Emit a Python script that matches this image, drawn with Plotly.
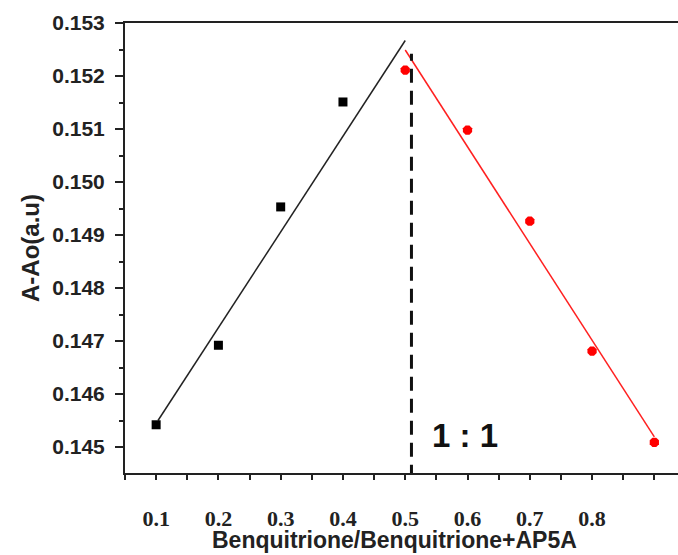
import plotly.graph_objects as go

# Data
black_x = [0.1, 0.2, 0.3, 0.4]
black_y = [0.14542, 0.14692, 0.14953, 0.15151]
red_x = [0.5, 0.6, 0.7, 0.8, 0.9]
red_y = [0.15211, 0.15098, 0.14926, 0.14681, 0.14509]

# Fitted lines (endpoints)
black_fit_x = [0.103, 0.5]
black_fit_y = [0.14550, 0.15267]
red_fit_x = [0.5, 0.9]
red_fit_y = [0.15249, 0.14519]

# Stoichiometry marker
ratio_x = 0.51
ratio_top = 0.15242
ratio_label = "1 : 1"
ratio_label_x = 0.596
ratio_label_y = 0.14522

x_title = "Benquitrione/Benquitrione+AP5A"
y_title = "A-Ao(a.u)"

x_ticks = [0.05, 0.1, 0.15, 0.2, 0.25, 0.3, 0.35, 0.4, 0.45, 0.5, 0.55, 0.6, 0.65, 0.7, 0.75, 0.8, 0.85, 0.9]
x_ticktext = ["", "0.1", "", "0.2", "", "0.3", "", "0.4", "", "0.5", "", "0.6", "", "0.7", "", "0.8", "", ""]
y_ticks = [0.145, 0.146, 0.147, 0.148, 0.149, 0.150, 0.151, 0.152, 0.153]

fig = go.Figure()
fig.add_trace(go.Scatter(x=black_fit_x, y=black_fit_y, mode="lines",
                         line=dict(color="#222222", width=1.5), showlegend=False))
fig.add_trace(go.Scatter(x=red_fit_x, y=red_fit_y, mode="lines",
                         line=dict(color="#ff2020", width=1.5), showlegend=False))
fig.add_trace(go.Scatter(x=black_x, y=black_y, mode="markers",
                         marker=dict(symbol="square", size=9, color="#000000"), showlegend=False))
fig.add_trace(go.Scatter(x=red_x, y=red_y, mode="markers",
                         marker=dict(symbol="octagon", size=10, color="#ff0000"), showlegend=False))

fig.add_shape(type="line", xref="x", yref="y", x0=ratio_x, x1=ratio_x, y0=0.14440, y1=ratio_top,
              line=dict(color="#111111", width=3, dash="14px,8px"))
fig.add_annotation(x=ratio_label_x, y=ratio_label_y, xref="x", yref="y", text="<b>" + ratio_label + "</b>",
                   showarrow=False, font=dict(family="Liberation Sans, Arial", size=33, color="#111111"),
                   xanchor="center", yanchor="middle")
fig.add_annotation(x=0.488, y=0, xref="paper", yref="paper", text="<b>" + x_title + "</b>",
                   showarrow=False, font=dict(family="Liberation Sans, Arial", size=23, color="#222222"),
                   xanchor="center", yanchor="top", yshift=-52)

fig.update_layout(
    width=678, height=555,
    margin=dict(l=125, r=0, t=23, b=82),
    paper_bgcolor="white", plot_bgcolor="white",
    font=dict(family="Liberation Sans, Arial", color="#222222"),
    xaxis=dict(
        range=[0.05, 0.938], automargin=False,
        tickmode="array", tickvals=x_ticks,
        ticktext=[f"<b>{t}</b>" if t else "" for t in x_ticktext],
        ticks="outside", ticklen=5, tickwidth=1.5, tickcolor="#222222",
        showline=True, linewidth=2, linecolor="#222222", mirror=True,
        showgrid=False, zeroline=False,
        tickfont=dict(family="Liberation Serif, Times New Roman", size=22, color="#222222"),
        ticklabelstandoff=20,
    ),
    yaxis=dict(
        range=[0.14451, 0.153], automargin=False,
        tickmode="array", tickvals=y_ticks, ticktext=[f"<b>{v:.3f}</b>" for v in y_ticks],
        ticks="outside", ticklen=8, tickwidth=1.5, tickcolor="#222222",
        minor=dict(dtick=0.0005, tick0=0.145, ticks="outside", ticklen=4, tickwidth=1.5, tickcolor="#222222"),
        showline=True, linewidth=2, linecolor="#222222",
        showgrid=False, zeroline=False,
        tickfont=dict(family="Liberation Sans, Arial", size=21, color="#222222"),
        ticklabelstandoff=6,
        title=dict(text="<b>" + y_title + "</b>", font=dict(family="Liberation Sans, Arial", size=24, color="#222222"),
                   standoff=6),
    ),
)

fig.write_html("out.html")
